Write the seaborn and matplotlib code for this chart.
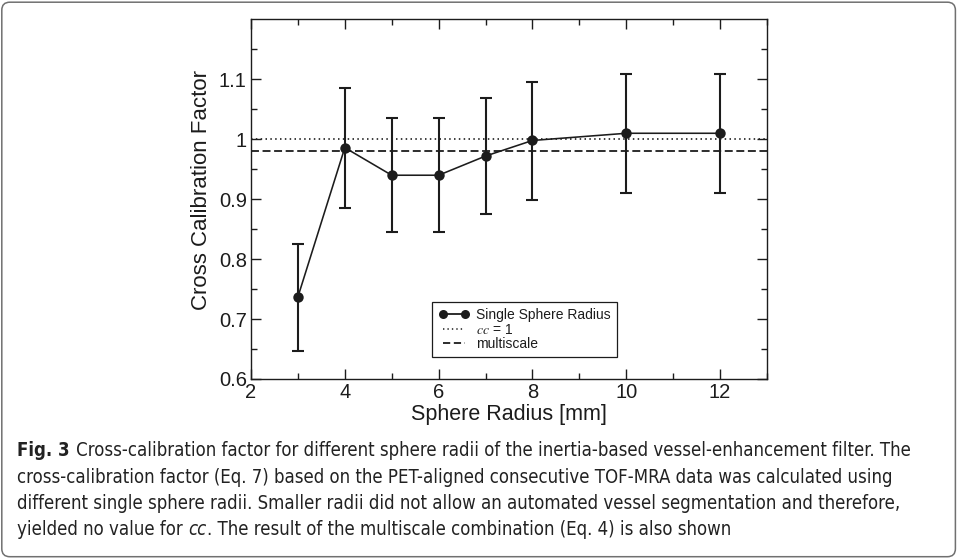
import numpy as np
import pandas as pd
import seaborn as sns
import matplotlib
matplotlib.use("Agg")
import matplotlib.pyplot as plt
from matplotlib import font_manager as fm
from matplotlib.patches import FancyBboxPatch
from matplotlib.lines import Line2D
from matplotlib.transforms import IdentityTransform
from matplotlib.ticker import FixedLocator, FuncFormatter

# ---------------- data ----------------
radius = [3, 4, 5, 6, 7, 8, 10, 12]
cc_single = [0.737, 0.986, 0.940, 0.940, 0.972, 0.998, 1.010, 1.010]
cc_upper = [0.826, 1.085, 1.035, 1.035, 1.069, 1.096, 1.109, 1.109]
cc_lower = [0.647, 0.885, 0.846, 0.845, 0.875, 0.899, 0.911, 0.911]
cc_reference = 1.0
cc_multiscale = 0.980

x_ticks = [2, 4, 6, 8, 10, 12]
x_minor = [3, 5, 7, 9, 11, 13]
y_ticks = [0.6, 0.7, 0.8, 0.9, 1.0, 1.1]
y_minor = [0.65, 0.75, 0.85, 0.95, 1.05, 1.15]
x_label = "Sphere Radius [mm]"
y_label = "Cross Calibration Factor"
legend_labels = ["Single Sphere Radius", "$cc$ = 1", "multiscale"]

caption_title = "Fig. 3"
caption_line1 = "Cross-calibration factor for different sphere radii of the inertia-based vessel-enhancement filter. The"
caption_line2 = "cross-calibration factor (Eq. 7) based on the PET-aligned consecutive TOF-MRA data was calculated using"
caption_line3 = "different single sphere radii. Smaller radii did not allow an automated vessel segmentation and therefore,"
caption_line4_a = "yielded no value for"
caption_line4_it = "cc"
caption_line4_b = ". The result of the multiscale combination (Eq. 4) is also shown"

# ---------------- style ----------------
sns.set_theme(style="ticks")
plt.rcParams["font.family"] = ["Liberation Sans", "DejaVu Sans"]
plt.rcParams["mathtext.fontset"] = "stix"

W, H = 957, 560
fig = plt.figure(figsize=(W / 100, H / 100), dpi=100)
fig.patch.set_facecolor("white")

def px_axes(left, top, right, bottom):
    return [left / W, 1 - bottom / H, (right - left) / W, (bottom - top) / H]

ax = fig.add_axes(px_axes(251, 19.4, 767, 379))
ink = "#1c1c1c"

df = pd.DataFrame({"radius": radius, "cc": cc_single})
sns.lineplot(data=df, x="radius", y="cc", marker="o", color=ink, lw=1.15,
             markersize=7.5, markeredgewidth=0, ax=ax, legend=False, zorder=4)
yerr = [np.array(cc_single) - np.array(cc_lower), np.array(cc_upper) - np.array(cc_single)]
ax.errorbar(radius, cc_single, yerr=yerr, fmt="none", ecolor=ink, elinewidth=1.5,
            capsize=4.2, capthick=1.5, zorder=3)
ax.axhline(cc_reference, color=ink, lw=1.2, ls=(0, (0.9, 2.0)), zorder=2)
ax.axhline(cc_multiscale, color=ink, lw=1.3, ls=(0, (4.4, 2.0)), zorder=2)

ax.set_xlim(2, 13)
ax.set_ylim(0.6, 1.2)
ax.xaxis.set_major_locator(FixedLocator(x_ticks))
ax.xaxis.set_minor_locator(FixedLocator(x_minor))
ax.yaxis.set_major_locator(FixedLocator(y_ticks))
ax.yaxis.set_minor_locator(FixedLocator(y_minor))
ax.yaxis.set_major_formatter(FuncFormatter(lambda v, p: f"{v:g}"))
ax.xaxis.set_major_formatter(FuncFormatter(lambda v, p: f"{v:g}"))
ax.tick_params(which="both", direction="in", top=True, right=True, color=ink,
               labelcolor=ink, width=1.0)
ax.tick_params(which="major", length=7, labelsize=14.5, pad=3)
ax.tick_params(which="minor", length=4)
for s in ax.spines.values():
    s.set_color(ink)
    s.set_linewidth(1.0)
ax.set_xlabel(x_label, fontsize=15.5, color=ink, labelpad=1)
ax.set_ylabel(y_label, fontsize=16, color=ink)
ax.yaxis.set_label_coords((211.5 - 251) / 516, (379 - 190) / 359.6)

handles = [
    Line2D([], [], color=ink, lw=1.3, marker="o", markersize=6.5, markeredgewidth=0),
    Line2D([], [], color=ink, lw=1.1, ls=(0, (0.9, 2.0))),
    Line2D([], [], color=ink, lw=1.3, ls=(0, (4.0, 2.0))),
]
leg = ax.legend(handles, legend_labels, loc="upper left", bbox_to_anchor=(0.351, 0.214),
                bbox_transform=ax.transAxes, borderaxespad=0, frameon=True, fancybox=False,
                framealpha=1, edgecolor=ink, fontsize=10, numpoints=2, handlelength=2.2,
                handletextpad=0.5, borderpad=0.45, labelspacing=0.02)
leg.get_frame().set_linewidth(0.9)
for t in leg.get_texts():
    t.set_color(ink)

# ---------------- frame ----------------
border = FancyBboxPatch((1.8, 3.3), 953.6, 554.5, boxstyle="round,pad=0,rounding_size=8",
                        transform=IdentityTransform(), facecolor="none", edgecolor="#707070",
                        lw=1.1, zorder=0)
fig.add_artist(border)

# ---------------- caption ----------------
def pick_font(cands, **kw):
    for fam, extra in cands:
        prop = fm.FontProperties(family=fam, **extra, **kw)
        try:
            path = fm.findfont(prop, fallback_to_default=False)
            return fm.FontProperties(fname=path)
        except Exception:
            continue
    return fm.FontProperties(family="DejaVu Sans", **kw)

cands = [("Liberation Sans Narrow", {}), ("DejaVu Sans", {"stretch": "condensed"}),
         ("Open Sans", {})]
f_reg = pick_font(cands)
f_bold = pick_font(cands, weight="bold")
f_it = pick_font(cands, style="italic")

fig.canvas.draw()
renderer = fig.canvas.get_renderer()

def width_of(s, prop, size):
    t = fig.text(0, 0, s, fontproperties=prop, fontsize=size)
    w = t.get_window_extent(renderer).width
    t.remove()
    return w

base = 10.0
fs = base * (914 - 76) / width_of(caption_line1, f_reg, base)
space_w = width_of("a a", f_reg, fs) - width_of("aa", f_reg, fs)

def put(xpx, ypx, s, prop):
    fig.text(xpx / W, 1 - ypx / H, s, fontproperties=prop, fontsize=fs,
             color="#222222", va="baseline", ha="left")

baselines = [456.5, 482.8, 509.0, 535.3]
put(17, baselines[0], caption_title, f_bold)
put(76, baselines[0], caption_line1, f_reg)
put(17, baselines[1], caption_line2, f_reg)
put(17, baselines[2], caption_line3, f_reg)
x = 17
put(x, baselines[3], caption_line4_a, f_reg)
x += width_of(caption_line4_a, f_reg, fs) + space_w
put(x, baselines[3], caption_line4_it, f_it)
x += width_of(caption_line4_it, f_it, fs) + 0.5
put(x, baselines[3], caption_line4_b, f_reg)

fig.savefig("out.png", dpi=100, facecolor="white")
